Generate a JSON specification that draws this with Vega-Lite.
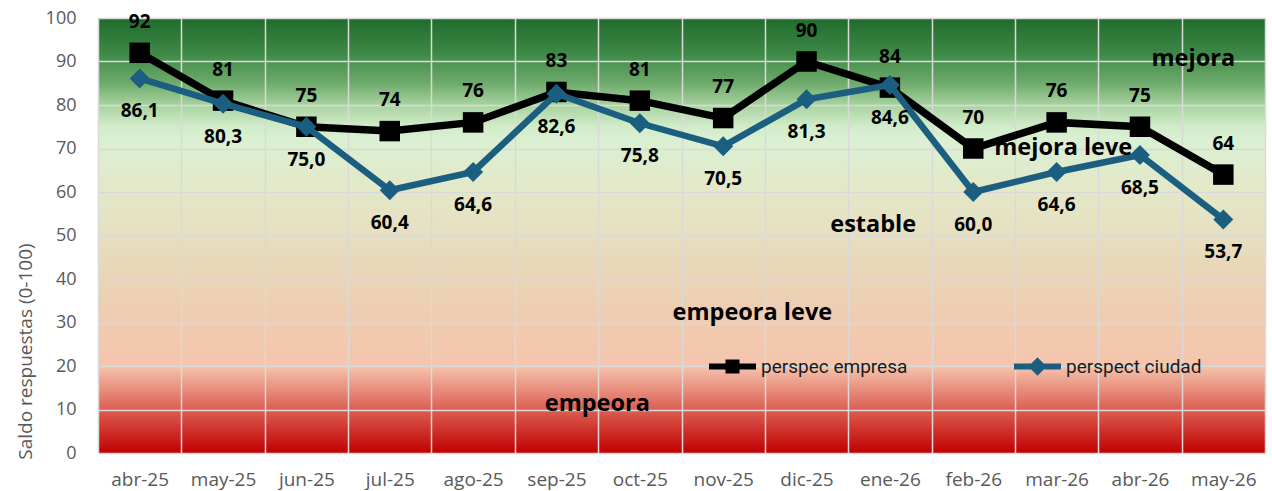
{
  "$schema": "https://vega.github.io/schema/vega-lite/v6.json",
  "width": 1167,
  "height": 435,
  "autosize": {"type": "none"},
  "padding": {"left": 98, "top": 18, "right": 7, "bottom": 38},
  "background": "#ffffff",
  "config": {
    "locale": {"number": {"decimal": ",", "thousands": ".", "grouping": [3], "currency": ["", " €"]}},
    "font": "Open Sans"
  },
  "view": {
    "stroke": null,
    "fill": {
      "gradient": "linear", "x1": 0, "y1": 0, "x2": 0, "y2": 1,
      "stops": [
        {"offset": 0, "color": "#1f6b2c"},
        {"offset": 0.08, "color": "#3d8846"},
        {"offset": 0.15, "color": "#6eab6c"},
        {"offset": 0.2, "color": "#a8d2a0"},
        {"offset": 0.25, "color": "#d2ecca"},
        {"offset": 0.28, "color": "#daf0d2"},
        {"offset": 0.4, "color": "#e3e8c8"},
        {"offset": 0.5, "color": "#e6dfc0"},
        {"offset": 0.6, "color": "#ead4b6"},
        {"offset": 0.7, "color": "#f0cbb0"},
        {"offset": 0.8, "color": "#f4c5ad"},
        {"offset": 0.82, "color": "#f0b09c"},
        {"offset": 0.9, "color": "#dc5f52"},
        {"offset": 1, "color": "#c00000"}
      ]
    }
  },
  "datasets": {
    "series": [
      {"mes": "abr-25", "serie": "perspec empresa", "valor": 92},
      {"mes": "may-25", "serie": "perspec empresa", "valor": 81},
      {"mes": "jun-25", "serie": "perspec empresa", "valor": 75},
      {"mes": "jul-25", "serie": "perspec empresa", "valor": 74},
      {"mes": "ago-25", "serie": "perspec empresa", "valor": 76},
      {"mes": "sep-25", "serie": "perspec empresa", "valor": 83},
      {"mes": "oct-25", "serie": "perspec empresa", "valor": 81},
      {"mes": "nov-25", "serie": "perspec empresa", "valor": 77},
      {"mes": "dic-25", "serie": "perspec empresa", "valor": 90},
      {"mes": "ene-26", "serie": "perspec empresa", "valor": 84},
      {"mes": "feb-26", "serie": "perspec empresa", "valor": 70},
      {"mes": "mar-26", "serie": "perspec empresa", "valor": 76},
      {"mes": "abr-26", "serie": "perspec empresa", "valor": 75},
      {"mes": "may-26", "serie": "perspec empresa", "valor": 64},
      {"mes": "abr-25", "serie": "perspect ciudad", "valor": 86.1},
      {"mes": "may-25", "serie": "perspect ciudad", "valor": 80.3},
      {"mes": "jun-25", "serie": "perspect ciudad", "valor": 75.0},
      {"mes": "jul-25", "serie": "perspect ciudad", "valor": 60.4},
      {"mes": "ago-25", "serie": "perspect ciudad", "valor": 64.6},
      {"mes": "sep-25", "serie": "perspect ciudad", "valor": 82.6},
      {"mes": "oct-25", "serie": "perspect ciudad", "valor": 75.8},
      {"mes": "nov-25", "serie": "perspect ciudad", "valor": 70.5},
      {"mes": "dic-25", "serie": "perspect ciudad", "valor": 81.3},
      {"mes": "ene-26", "serie": "perspect ciudad", "valor": 84.6},
      {"mes": "feb-26", "serie": "perspect ciudad", "valor": 60.0},
      {"mes": "mar-26", "serie": "perspect ciudad", "valor": 64.6},
      {"mes": "abr-26", "serie": "perspect ciudad", "valor": 68.5},
      {"mes": "may-26", "serie": "perspect ciudad", "valor": 53.7}
    ],
    "zonas": [
      {"etiqueta": "mejora", "pos": 13.14, "valor": 90.6},
      {"etiqueta": "mejora leve", "pos": 11.58, "valor": 70.1},
      {"etiqueta": "estable", "pos": 9.3, "valor": 52.4},
      {"etiqueta": "empeora leve", "pos": 7.85, "valor": 32.2},
      {"etiqueta": "empeora", "pos": 5.99, "valor": 11.3}
    ]
  },
  "resolve": {"scale": {"x": "independent"}, "axis": {"x": "independent"}},
  "layer": [
    {
      "data": {"name": "series"},
      "encoding": {
        "x": {
          "field": "mes", "type": "ordinal", "sort": null,
          "scale": {"paddingInner": 0, "paddingOuter": 0},
          "axis": {
            "title": null, "labelAngle": 0, "labelFont": "Open Sans", "labelFontSize": 19,
            "labelColor": "#595959", "labelPadding": 17, "ticks": false, "domain": false,
            "grid": true, "tickBand": "extent", "gridColor": "#d9d9d9", "gridWidth": 1.5
          }
        },
        "y": {
          "field": "valor", "type": "quantitative",
          "scale": {"domain": [0, 100], "nice": false},
          "axis": {
            "values": [0, 10, 20, 30, 40, 50, 60, 70, 80, 90, 100],
            "title": "Saldo respuestas (0-100)", "titleFont": "Open Sans", "titleFontSize": 19,
            "titleFontWeight": "normal", "titleColor": "#595959",
            "titleX": -73, "titleY": 333, "titleBaseline": "middle", "titleAlign": "center", "titleAngle": 270,
            "labelFont": "Open Sans", "labelFontSize": 18, "labelColor": "#595959", "labelPadding": 22,
            "ticks": false, "domain": false, "gridColor": "#d9d9d9", "gridWidth": 1.5
          }
        }
      },
      "layer": [
        {
          "transform": [{"filter": "datum.serie === 'perspec empresa'"}],
          "mark": {"type": "line", "color": "#000000", "strokeWidth": 7.5, "strokeJoin": "miter"}
        },
        {
          "transform": [{"filter": "datum.serie === 'perspec empresa'"}],
          "mark": {"type": "point", "filled": true, "opacity": 1, "shape": "square", "size": 420},
          "encoding": {
            "color": {
              "field": "serie", "type": "nominal",
              "scale": {"domain": ["perspec empresa"], "range": ["#000000"]},
              "legend": {
                "title": null, "orient": "none", "direction": "horizontal",
                "legendX": 608, "legendY": 322,
                "labelFont": "Roboto", "labelFontSize": 19, "labelColor": "#1a1a1a", "labelOffset": 2,
                "symbolType": "M-1,0H1M-0.17,-0.17H0.17V0.17H-0.17Z",
                "symbolSize": 2209, "symbolStrokeWidth": 6, "symbolStrokeColor": "#000000",
                "symbolFillColor": "#000000", "symbolOpacity": 1
              }
            }
          }
        },
        {
          "transform": [{"filter": "datum.serie === 'perspect ciudad'"}],
          "mark": {"type": "line", "color": "#1b5e80", "strokeWidth": 6.5, "strokeJoin": "miter"}
        },
        {
          "transform": [{"filter": "datum.serie === 'perspect ciudad'"}],
          "mark": {"type": "point", "filled": true, "opacity": 1, "shape": "diamond", "size": 400},
          "encoding": {
            "fill": {
              "field": "serie", "type": "nominal",
              "scale": {"domain": ["perspect ciudad"], "range": ["#1b5e80"]},
              "legend": {
                "title": null, "orient": "none", "direction": "horizontal",
                "legendX": 913, "legendY": 322,
                "labelFont": "Roboto", "labelFontSize": 19, "labelColor": "#1a1a1a", "labelOffset": 2,
                "symbolType": "M-1,0H1M0,-0.21L0.21,0L0,0.21L-0.21,0Z",
                "symbolSize": 2209, "symbolStrokeWidth": 6, "symbolStrokeColor": "#1b5e80",
                "symbolFillColor": "#1b5e80", "symbolOpacity": 1
              }
            }
          }
        },
        {
          "transform": [{"filter": "datum.serie === 'perspec empresa'"}],
          "mark": {"type": "text", "dy": -31, "fontSize": 19, "fontWeight": "bold", "font": "Open Sans", "color": "#000000", "baseline": "middle"},
          "encoding": {"text": {"field": "valor", "type": "quantitative", "format": ".0f"}}
        },
        {
          "transform": [{"filter": "datum.serie === 'perspect ciudad'"}],
          "mark": {"type": "text", "dy": 33, "fontSize": 19, "fontWeight": "bold", "font": "Open Sans", "color": "#000000", "baseline": "middle"},
          "encoding": {"text": {"field": "valor", "type": "quantitative", "format": ".1f"}}
        }
      ]
    },
    {
      "data": {"name": "zonas"},
      "mark": {"type": "text", "fontSize": 23.5, "fontWeight": "bold", "font": "Open Sans", "color": "#000000", "baseline": "middle"},
      "encoding": {
        "x": {"field": "pos", "type": "quantitative", "scale": {"domain": [0, 14], "nice": false, "zero": false}, "axis": null},
        "y": {"field": "valor", "type": "quantitative", "scale": {"domain": [0, 100], "nice": false}},
        "text": {"field": "etiqueta", "type": "nominal"}
      }
    }
  ]
}
